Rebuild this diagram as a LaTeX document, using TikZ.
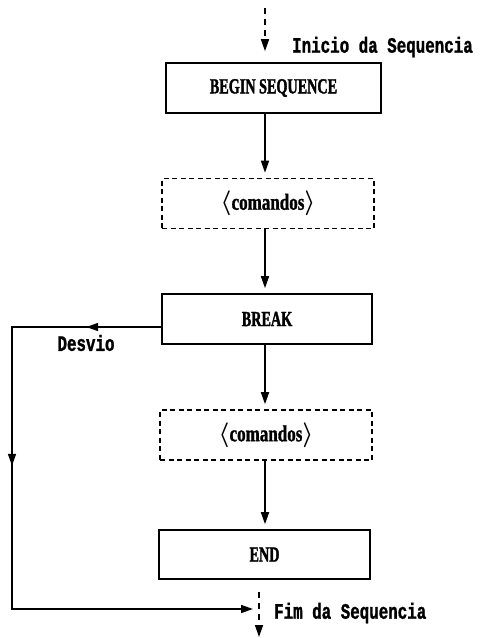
\documentclass[tikz,border=0pt]{standalone}
\usepackage{fontspec}
\usepackage{amsmath}
\usetikzlibrary{arrows.meta,decorations.markings}
\newfontfamily\labfont[FakeStretch=0.72,FakeBold=1.2]{Liberation Mono}
\newfontfamily\boxfont[FakeStretch=0.66,FakeBold=1.5]{Liberation Serif}
\newfontfamily\cmdfont[FakeStretch=0.74,FakeBold=1.2]{Liberation Serif}
\newcommand{\cmdtext}{{\cmdfont\bfseries\fontsize{23}{23}\selectfont$\boldsymbol{\langle}$comandos$\boldsymbol{\rangle}$}}
\begin{document}
\begin{tikzpicture}[x=1pt,y=-1pt,
  tip/.style={-{Triangle[length=12pt,width=8pt]}},
  solidbox/.style={draw,line width=1.6pt,minimum width=212pt,minimum height=50pt,inner sep=0pt,
    font=\boxfont\bfseries\fontsize{21.5}{22}\selectfont},
  dashbox/.style={solidbox,dash pattern=on 5pt off 3.5pt},
  flow/.style={line width=1.5pt,tip,shorten >=5pt},
  dashflow/.style={line width=1.5pt,tip,dash pattern=on 6pt off 5pt},
  lab/.style={font=\labfont\bfseries\fontsize{22}{22}\selectfont,inner sep=0pt}
]
\useasboundingbox (0,0) rectangle (481,638);

% blocks of the sequence
\node[solidbox,minimum width=215pt] (beg) at (273.5,88) {BEGIN SEQUENCE};
\node[dashbox] (c1) at (268,203.5) {\cmdtext};
\node[solidbox,minimum width=210pt] (brk) at (267,319) {BREAK};
\node[dashbox] (c2) at (266,435) {\cmdtext};
\node[solidbox,minimum width=211pt,minimum height=49pt] (endn) at (264.5,554.5) {END};

% helper points
\coordinate (axis) at (265,0);
\coordinate (top) at (265,8);
\coordinate (finTop) at (259,592);
\coordinate (finBot) at (259,637);
\coordinate (bend1) at (12,327);
\coordinate (bend2) at (12,609);
\coordinate (finx) at (259,609);

% entry and exit of the sequence
\draw[dashflow,shorten >=11pt] (top) -- (beg.north -| axis);
\draw[dashflow] (finTop) -- (finBot);

% main flow
\draw[flow] (beg.south -| axis) -- (c1.north -| axis);
\draw[flow] (c1.south -| axis) -- (brk.north -| axis);
\draw[flow] (brk.south -| axis) -- (c2.north -| axis);
\draw[flow] (c2.south -| axis) -- (endn.north -| axis);

% branch taken by BREAK
\draw[line width=1.5pt,tip,shorten >=6pt,
  postaction={decorate},
  decoration={markings,
    mark=at position 75pt with {\arrow{Triangle[length=12pt,width=8pt]}},
    mark=at position 288pt with {\arrow{Triangle[length=12pt,width=8pt]}}}]
  (brk.west |- bend1) -- (bend1) -- (bend2) -- (finx);

% labels
\node[lab,anchor=west] (ini) at (292,47) {Inicio da Sequencia};
\node[lab] (desv) at (86,343) {Desvio};
\node[lab,anchor=west] (fim) at (274,613) {Fim da Sequencia};
\end{tikzpicture}
\end{document}
